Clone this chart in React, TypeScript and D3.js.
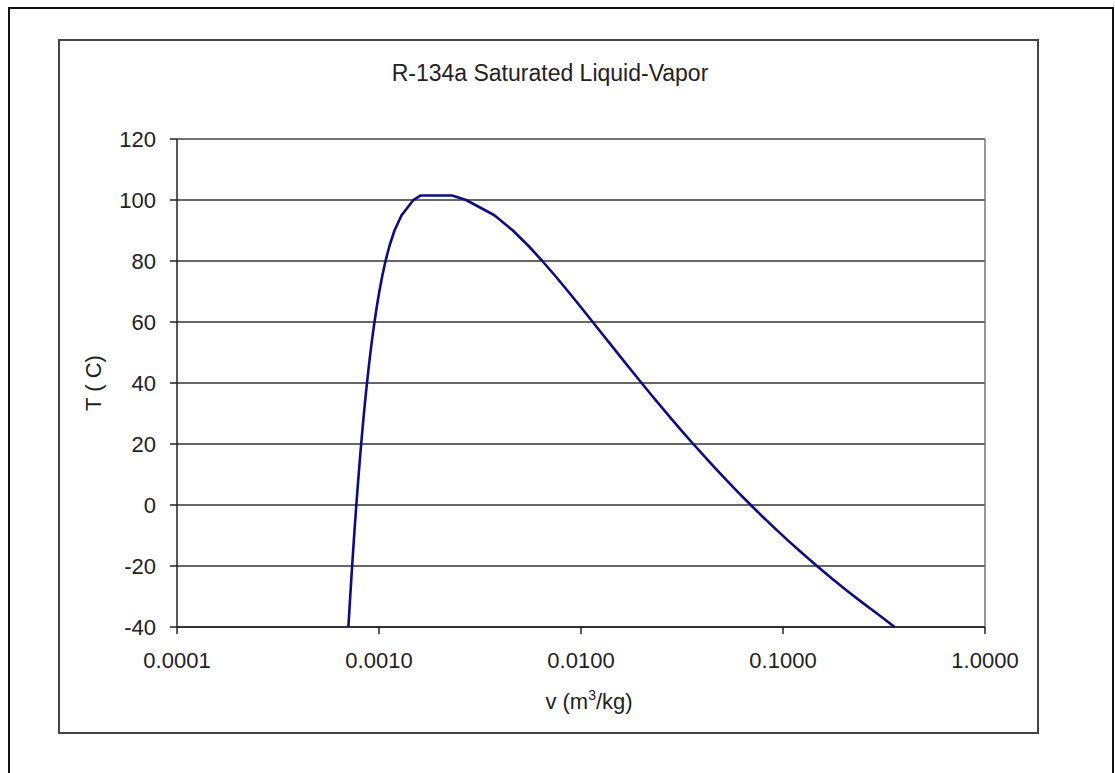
import * as d3 from 'd3';
import React from 'react';

// saturation temperature (C)
const tempC = [-40, -36, -32, -28, -24, -20, -16, -12, -8, -4, 0, 4, 8, 12, 16, 20, 24, 28, 32, 36, 40, 44, 48, 52, 56, 60, 65, 70, 75, 80, 85, 90, 95, 100, 101.5];
// saturated liquid specific volume (m3/kg)
const vLiquid = [0.0007054, 0.0007112, 0.0007172, 0.0007234, 0.0007297, 0.0007362, 0.000743, 0.0007499, 0.0007571, 0.0007646, 0.0007723, 0.0007804, 0.0007887, 0.0007975, 0.0008066, 0.0008161, 0.0008261, 0.0008366, 0.0008478, 0.0008595, 0.000872, 0.0008854, 0.0008996, 0.000915, 0.0009317, 0.0009498, 0.000975, 0.0010037, 0.0010372, 0.0010772, 0.001127, 0.0011932, 0.0012933, 0.00148, 0.00161];
// saturated vapor specific volume (m3/kg)
const vVapor = [0.3569, 0.29751, 0.24711, 0.20666, 0.17395, 0.14729, 0.12542, 0.10736, 0.092352, 0.079804, 0.069255, 0.060338, 0.052762, 0.046295, 0.040748, 0.035969, 0.031834, 0.028242, 0.025108, 0.022364, 0.019952, 0.017824, 0.015939, 0.014265, 0.012771, 0.011434, 0.00995, 0.008642, 0.00748, 0.006436, 0.005486, 0.004599, 0.003726, 0.0027, 0.0023];

const xTicks = [0.0001, 0.001, 0.01, 0.1, 1];
const yTicks = [-40, -20, 0, 20, 40, 60, 80, 100, 120];

const W = 1115, H = 773;
const font = "'Liberation Sans', Arial, sans-serif";

export default function App() {
  const x = d3.scaleLog().domain([0.0001, 1]).range([177, 985]);
  const y = d3.scaleLinear().domain([-40, 120]).range([627, 139]);

  // liquid line up to the top, then vapor line back down
  const pts: [number, number][] = [];
  tempC.forEach((t, i) => pts.push([vLiquid[i], t]));
  for (let i = tempC.length - 1; i >= 0; i--) pts.push([vVapor[i], tempC[i]]);

  const line = d3.line<[number, number]>()
    .x(d => x(d[0]))
    .y(d => y(d[1]));

  const fmt = d3.format('.4f');

  return (
    <svg width={W} height={H} style={{ position: 'absolute', left: 0, top: 0, background: '#fff' }}>
      {/* page frame */}
      <path d={`M9,${H + 5} V8 H1113 V${H + 5}`} fill="none" stroke="#111" strokeWidth={2} />
      {/* chart area */}
      <rect x={59} y={40} width={979} height={693} fill="#fff" stroke="#444" strokeWidth={2} />

      <text x={550} y={81} textAnchor="middle" fontFamily={font} fontSize={23} fill="#222">
        R-134a Saturated Liquid-Vapor
      </text>

      {/* grid */}
      {yTicks.map(t => (
        <line key={'g' + t} x1={177} x2={985} y1={y(t)} y2={y(t)} stroke="#333" strokeWidth={1.5} />
      ))}
      <line x1={985} x2={985} y1={139} y2={627} stroke="#777" strokeWidth={1.5} />
      <line x1={177} x2={985} y1={139} y2={139} stroke="#777" strokeWidth={1.5} />

      {/* y axis */}
      <line x1={177} x2={177} y1={139} y2={627} stroke="#222" strokeWidth={1.5} />
      {yTicks.map(t => (
        <g key={'y' + t}>
          <line x1={170} x2={177} y1={y(t)} y2={y(t)} stroke="#222" strokeWidth={1.5} />
          <text x={156} y={y(t)} dy="0.36em" textAnchor="end" fontFamily={font} fontSize={22} fill="#222">{t}</text>
        </g>
      ))}

      {/* x axis */}
      <line x1={177} x2={985} y1={627} y2={627} stroke="#222" strokeWidth={1.5} />
      {xTicks.map(t => (
        <g key={'x' + t}>
          <line x1={x(t)} x2={x(t)} y1={627} y2={634} stroke="#222" strokeWidth={1.5} />
          <text x={x(t)} y={668} textAnchor="middle" fontFamily={font} fontSize={22} fill="#222">{fmt(t)}</text>
        </g>
      ))}

      <path d={line(pts) || ''} fill="none" stroke="#0d0d80" strokeWidth={2.6} strokeLinejoin="round" />

      <text x={589} y={709} textAnchor="middle" fontFamily={font} fontSize={22} fill="#222">
        v (m<tspan dy={-9} fontSize={14}>3</tspan><tspan dy={9}>/kg)</tspan>
      </text>
      <text transform="translate(101,383) rotate(-90)" textAnchor="middle" fontFamily={font} fontSize={22} fill="#222">
        T ( C)
      </text>
    </svg>
  );
}
